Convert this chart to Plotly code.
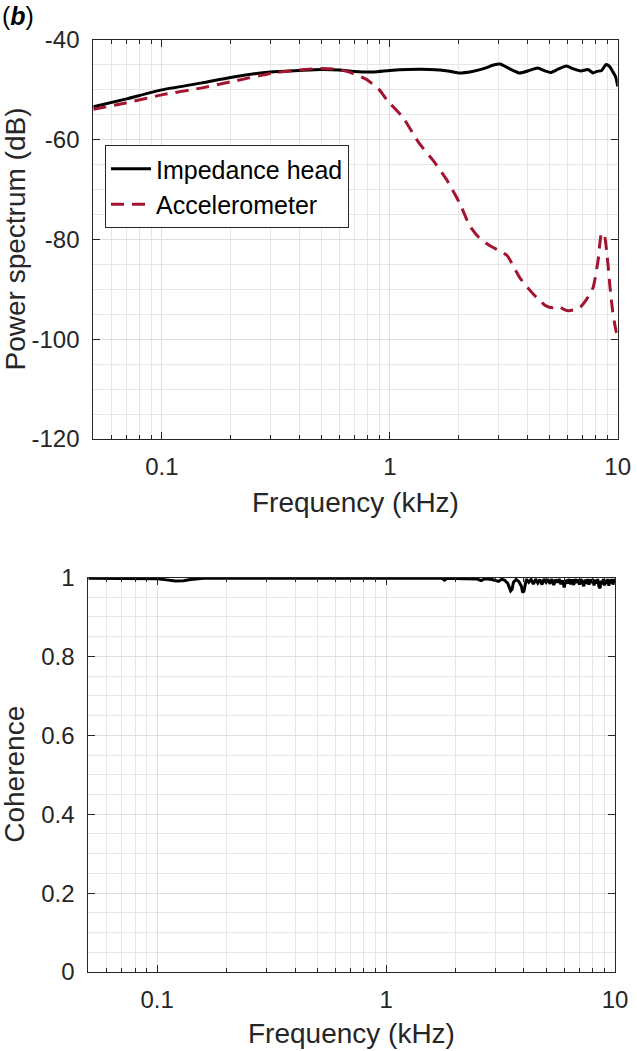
import plotly.graph_objects as go

# ---------------- data ----------------
f_imp = [0.05, 0.07, 0.1, 0.15, 0.2, 0.3, 0.4, 0.5, 0.6, 0.7, 0.85, 1.0, 1.2, 1.5, 1.8,
         2.0, 2.3, 2.6, 2.85, 3.05, 3.3, 3.7, 4.1, 4.45, 4.8, 5.1, 5.5, 5.95, 6.4, 6.9,
         7.4, 7.8, 8.1, 8.5, 8.9, 9.2, 9.5, 9.8, 10.0]
imp_db = [-53.4, -51.8, -50.0, -48.6, -47.5, -46.4, -46.1, -45.9, -46.0, -46.3, -46.4, -46.1, -45.9, -45.9, -46.2,
          -46.6, -46.3, -45.7, -45.0, -44.8, -45.6, -46.6, -46.1, -45.6, -46.2, -46.5, -45.8, -45.2, -45.8, -46.2,
          -45.9, -46.6, -46.3, -46.1, -44.9, -45.3, -46.3, -47.4, -49.3]

f_acc = [0.05, 0.07, 0.1, 0.15, 0.2, 0.3, 0.4, 0.5, 0.6, 0.67, 0.79, 0.9, 0.97, 1.14, 1.35,
         1.54, 1.77, 2.03, 2.24, 2.45, 2.66, 2.84, 3.0, 3.27, 3.71, 4.05, 4.4, 4.8, 5.2, 5.5,
         5.8, 6.1, 6.8, 7.3, 7.8, 8.2, 8.5, 8.7, 9.0, 9.25, 9.5, 9.75, 10.0]
acc_db = [-53.9, -52.6, -51.0, -49.6, -48.4, -46.7, -46.0, -45.7, -45.9, -46.5, -47.9, -50.0, -52.0, -55.5, -60.8,
          -64.0, -67.9, -72.8, -77.2, -79.5, -80.8, -81.6, -82.2, -83.2, -87.6, -89.8, -91.6, -93.2, -93.7, -93.4,
          -94.0, -94.3, -93.7, -92.0, -89.6, -84.2, -78.8, -78.8, -83.6, -89.5, -94.3, -97.5, -99.7]

f_coh = [0.05, 0.08, 0.1, 0.11, 0.12, 0.13, 0.14, 0.16, 0.2, 0.5,
         1.0, 1.5, 1.75, 1.8, 1.85, 2.2, 2.5, 2.6, 2.7, 2.9,
         3.1, 3.2, 3.3, 3.4, 3.5, 3.55, 3.6, 3.7, 3.8, 3.9,
         3.95, 4.0, 4.05, 4.1, 4.2, 4.3, 4.4, 4.5, 4.6, 4.7,
         4.8, 4.9, 5.0, 5.1, 5.2, 5.3, 5.4, 5.5, 5.6, 5.7,
         5.8, 5.9, 6.0, 6.1, 6.2, 6.3, 6.4, 6.5, 6.6, 6.7,
         6.8, 6.9, 7.0, 7.1, 7.2, 7.3, 7.4, 7.5, 7.6, 7.7,
         7.8, 7.9, 8.0, 8.1, 8.2, 8.3, 8.4, 8.5, 8.6, 8.7,
         8.8, 8.9, 9.0, 9.1, 9.2, 9.3, 9.4, 9.5, 9.6, 9.7,
         9.8, 9.9, 10.0]
coh = [0.998, 0.998, 0.997, 0.994, 0.991, 0.992, 0.995, 0.998, 0.998, 0.998,
       0.998, 0.997, 0.998, 0.993, 0.998, 0.997, 0.996, 0.992, 0.997, 0.995,
       0.990, 0.996, 0.993, 0.985, 0.966, 0.970, 0.988, 0.995, 0.990, 0.978,
       0.962, 0.965, 0.985, 0.996, 0.988, 0.995, 0.983, 0.996, 0.986, 0.995,
       0.982, 0.996, 0.988, 0.995, 0.984, 0.996, 0.981, 0.995, 0.987, 0.996,
       0.983, 0.993, 0.975, 0.994, 0.985, 0.996, 0.983, 0.995, 0.981, 0.996,
       0.986, 0.995, 0.982, 0.996, 0.988, 0.978, 0.995, 0.984, 0.996, 0.982,
       0.995, 0.986, 0.996, 0.980, 0.994, 0.985, 0.996, 0.978, 0.973, 0.992,
       0.983, 0.996, 0.980, 0.994, 0.984, 0.996, 0.979, 0.995, 0.985, 0.996,
       0.982, 0.995, 0.992]

x_major = [0.1, 1, 10]
x_major_text = ["0.1", "1", "10"]
x_minor = [0.05, 0.06, 0.07, 0.08, 0.09, 0.2, 0.3, 0.4, 0.5, 0.6, 0.7, 0.8, 0.9,
           2, 3, 4, 5, 6, 7, 8, 9]
y1_ticks = [-120, -100, -80, -60, -40]
y1_text = ["-120", "-100", "-80", "-60", "-40"]
y2_ticks = [0, 0.2, 0.4, 0.6, 0.8, 1]
y2_text = ["0", "0.2", "0.4", "0.6", "0.8", "1"]

# ---------------- style ----------------
W, H = 637, 1051
FONT = "Liberation Sans, Arial, Helvetica, sans-serif"
AX = "#262626"
RED = "#A2142F"
TICKSZ = 24
LABSZ = 28

fig = go.Figure()
fig.add_trace(go.Scatter(x=f_imp, y=imp_db, mode="lines", name="Impedance head",
                         line=dict(color="black", width=3, shape="spline", smoothing=0.6),
                         xaxis="x", yaxis="y"))
fig.add_trace(go.Scatter(x=f_acc, y=acc_db, mode="lines", name="Accelerometer",
                         line=dict(color=RED, width=3, dash="13px,8px", shape="spline", smoothing=0.6),
                         xaxis="x", yaxis="y"))
fig.add_trace(go.Scatter(x=f_coh, y=coh, mode="lines", name="Coherence", showlegend=False,
                         line=dict(color="black", width=3),
                         xaxis="x2", yaxis="y2"))

def xax(domain, anchor):
    return dict(type="log", range=[-1.30103, 1.0], domain=domain, anchor=anchor,
                tickmode="array", tickvals=x_major, ticktext=x_major_text,
                showline=True, linecolor=AX, linewidth=1, mirror="ticks",
                ticks="inside", ticklen=7, tickcolor=AX,
                showgrid=True, gridcolor="#dedede", gridwidth=1,
                minor=dict(tickvals=x_minor, ticks="inside", ticklen=4, tickcolor=AX,
                           showgrid=True, gridcolor="#e6e6e6", gridwidth=1),
                tickfont=dict(family=FONT, size=TICKSZ, color=AX),
                ticklabelstandoff=6, zeroline=False, automargin=False)

def yax(domain, anchor, rng, tv, tt, mdt):
    return dict(range=rng, domain=domain, anchor=anchor,
                tickmode="array", tickvals=tv, ticktext=tt,
                showline=True, linecolor=AX, linewidth=1, mirror="ticks",
                ticks="inside", ticklen=7, tickcolor=AX,
                showgrid=True, gridcolor="#dedede", gridwidth=1,
                minor=dict(dtick=mdt, ticks="", showgrid=True, gridcolor="#e6e6e6", gridwidth=1),
                tickfont=dict(family=FONT, size=TICKSZ, color=AX),
                ticklabelstandoff=8, zeroline=False, automargin=False)

top_x = [93.3 / W, 617.7 / W]
top_y = [1 - 439 / H, 1 - 40 / H]
bot_x = [88.3 / W, 615 / W]
bot_y = [1 - 972 / H, 1 - 577.5 / H]

fig.update_layout(
    width=W, height=H,
    margin=dict(l=0, r=0, t=0, b=0),
    paper_bgcolor="white", plot_bgcolor="white",
    font=dict(family=FONT, color=AX),
    xaxis=xax(top_x, "y"),
    yaxis=yax(top_y, "x", [-120, -40], y1_ticks, y1_text, 5),
    xaxis2=xax(bot_x, "y2"),
    yaxis2=yax(bot_y, "x2", [0, 1], y2_ticks, y2_text, 0.05),
    legend=dict(x=105 / W, y=1 - 145 / H, xanchor="left", yanchor="top",
                bgcolor="white", bordercolor=AX, borderwidth=1,
                font=dict(family=FONT, size=25, color="black"),
                itemwidth=40, tracegroupgap=0),
    showlegend=True,
)

annos = [
    dict(text="Frequency (kHz)", x=(top_x[0] + top_x[1]) / 2, y=1 - 502 / H,
         xanchor="center", yanchor="middle", textangle=0),
    dict(text="Frequency (kHz)", x=(bot_x[0] + bot_x[1]) / 2, y=1 - 1033 / H,
         xanchor="center", yanchor="middle", textangle=0),
    dict(text="Power spectrum (dB)", x=15 / W, y=(top_y[0] + top_y[1]) / 2,
         xanchor="center", yanchor="middle", textangle=-90),
    dict(text="Coherence", x=15 / W, y=(bot_y[0] + bot_y[1]) / 2,
         xanchor="center", yanchor="middle", textangle=-90),
]
for a in annos:
    fig.add_annotation(xref="paper", yref="paper", showarrow=False,
                       font=dict(family=FONT, size=LABSZ, color=AX), **a)
fig.add_annotation(xref="paper", yref="paper", showarrow=False, text="(<b><i>b</i></b>)",
                   x=0, y=1, xanchor="left", yanchor="top",
                   font=dict(family=FONT, size=25, color="black"))

fig.write_html("out.html", config={"displayModeBar": False},
               post_script="document.body.style.margin='0';document.body.style.overflow='hidden';")
